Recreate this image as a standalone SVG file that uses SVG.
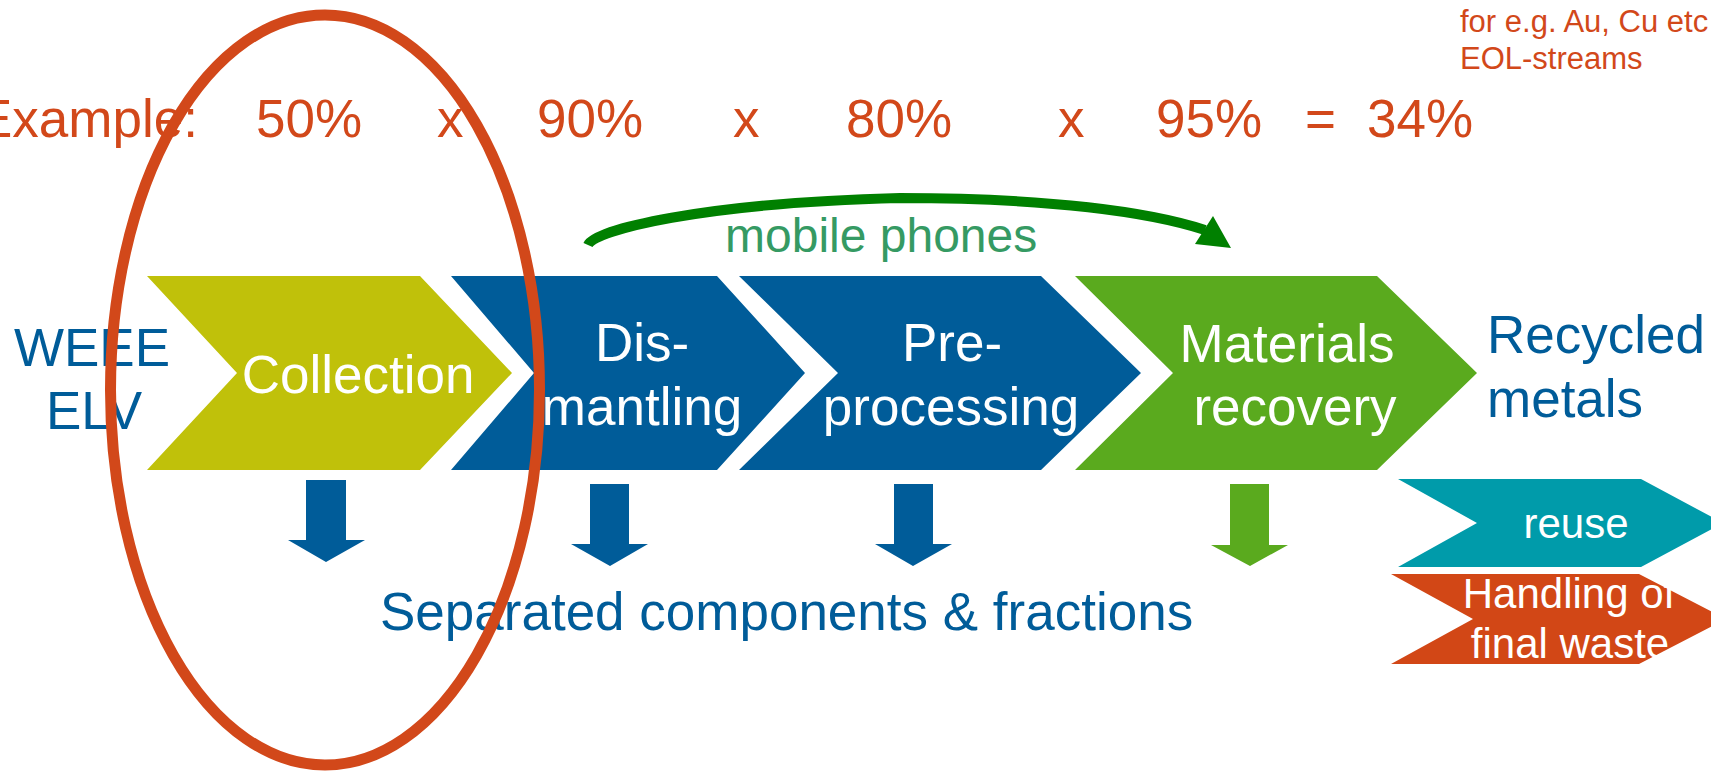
<svg xmlns="http://www.w3.org/2000/svg" width="1711" height="771" viewBox="0 0 1711 771">
<style>
text{font-family:"Liberation Sans",Arial,Helvetica,sans-serif}
.calc{font-size:53px;fill:#D2481A}
.note{font-size:31px;fill:#D2481A}
.w{font-size:53px;fill:#fff;text-anchor:middle}
.ws{font-size:42px;fill:#fff;text-anchor:middle}
.b{font-size:53px;fill:#005C99}
.blue{fill:#005C99}
.green{fill:#5AAA1E}
</style>
<rect width="1711" height="771" fill="#fff"/>
<g id="calculation">
<text class="calc" x="-23" y="137">Example:</text>
<text class="calc" x="256" y="137">50%</text>
<text class="calc" x="437" y="137">x</text>
<text class="calc" x="537" y="137">90%</text>
<text class="calc" x="733" y="137">x</text>
<text class="calc" x="846" y="137">80%</text>
<text class="calc" x="1058" y="137">x</text>
<text class="calc" x="1156" y="137">95%</text>
<text class="calc" x="1305" y="137">=</text>
<text class="calc" x="1367" y="137">34%</text>
</g>
<g id="note">
<text class="note" x="1460" y="32">for e.g. Au, Cu etc</text>
<text class="note" x="1460" y="69">EOL-streams</text>
</g>
<g id="input">
<text class="b" x="92" y="366" text-anchor="middle">WEEE</text>
<text class="b" x="94" y="429" text-anchor="middle">ELV</text>
</g>
<g id="collection">
<polygon points="147,276 420,276 512,373 420,470 147,470 237,373" fill="#C0C10A"/>
<text class="w" x="358" y="393">Collection</text>
</g>
<g id="dismantling">
<polygon class="blue" points="451,276 717,276 805,373 717,470 451,470 534,373"/>
<text class="w" x="642" y="361">Dis-</text>
<text class="w" x="642" y="425">mantling</text>
</g>
<g id="preprocessing">
<polygon class="blue" points="739,276 1041,276 1141,373 1041,470 739,470 838,373"/>
<text class="w" x="952" y="361">Pre-</text>
<text class="w" x="951" y="425">processing</text>
</g>
<g id="materials-recovery">
<polygon class="green" points="1075,276 1377,276 1477,373 1377,470 1075,470 1173,373"/>
<text class="w" x="1287" y="362">Materials</text>
<text class="w" x="1295" y="425">recovery</text>
</g>
<g id="recycled-metals">
<text class="b" x="1487" y="353">Recycled</text>
<text class="b" x="1487" y="417">metals</text>
</g>
<g id="reuse">
<polygon points="1398,479 1641,479 1723,523 1641,567 1398,567 1477,523" fill="#009BAA"/>
<text class="ws" x="1576" y="538">reuse</text>
</g>
<g id="final-waste">
<polygon points="1391,574 1639,574 1726,619 1639,664 1391,664 1473,619" fill="#D24716"/>
<text class="ws" x="1569" y="608">Handling of</text>
<text class="ws" x="1570" y="658">final waste</text>
</g>
<g id="separated">
<text class="b" x="380" y="630">Separated components &amp; fractions</text>
</g>
<g id="connectors">
<polygon class="blue" points="306,480 346,480 346,540 365,540 326,562 288,540 306,540"/>
<polygon class="blue" points="590,484 629,484 629,544 648,544 610,566 571,544 590,544"/>
<polygon class="blue" points="894,484 933,484 933,544 952,544 913,566 875,544 894,544"/>
<polygon class="green" points="1230,484 1269,484 1269,545 1288,545 1250,566 1211,545 1230,545"/>
<path d="M588,245 C595,230 700,203 900,198 C1050,198 1150,212 1205,230" fill="none" stroke="#008000" stroke-width="10"/>
<polygon points="1213,216 1195,244 1231,248" fill="#008000"/>
<text x="725" y="252" font-size="48" fill="#359A63">mobile phones</text>
</g>
<g id="highlight">
<ellipse cx="325" cy="390" rx="214.5" ry="375" fill="none" stroke="#D2481A" stroke-width="11"/>
</g>
</svg>
